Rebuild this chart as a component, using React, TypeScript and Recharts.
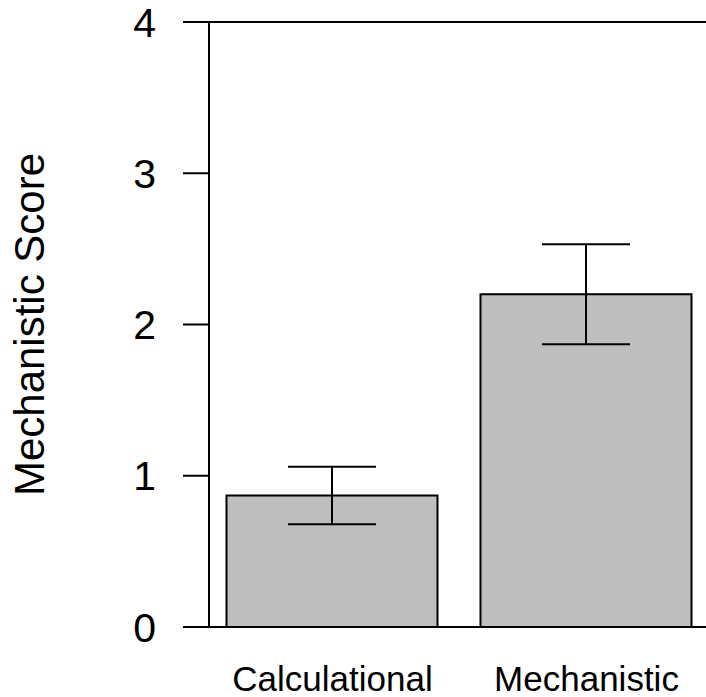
import React from "react";
import {
  BarChart,
  Bar,
  XAxis,
  YAxis,
  ErrorBar,
  ReferenceLine,
} from "recharts";

const categories = ["Calculational", "Mechanistic"];
const scores = [0.87, 2.2];
const errors = [0.19, 0.33];
const yTicks = [0, 1, 2, 3, 4];

const data = categories.map((name, i) => ({
  idx: i,
  name,
  score: scores[i],
  err: errors[i],
}));

const font = "'Liberation Sans', Arial, Helvetica, sans-serif";

export default function App() {
  return (
    <div style={{ position: "absolute", left: 0, top: 0, width: 706, height: 697, background: "#fff" }}>
      <BarChart
        width={706}
        height={697}
        data={data}
        margin={{ top: 22, right: 0, left: 0, bottom: 0 }}
      >
        <XAxis
          type="number"
          dataKey="idx"
          domain={[-0.4862, 1.4705]}
          allowDataOverflow
          ticks={[0, 1]}
          interval={0}
          tickFormatter={(v: number) => categories[v] ?? ""}
          tickLine={false}
          tickSize={0}
          tickMargin={39}
          height={70}
          axisLine={{ stroke: "#000", strokeWidth: 2 }}
          tick={{ fill: "#000", fontSize: 35, fontFamily: font }}
        />
        <YAxis
          domain={[0, 4]}
          ticks={yTicks}
          interval={0}
          width={209}
          tickSize={26}
          tickMargin={27}
          axisLine={{ stroke: "#000", strokeWidth: 2 }}
          tickLine={{ stroke: "#000", strokeWidth: 2 }}
          tick={{ fill: "#000", fontSize: 41, fontFamily: font }}
          label={{
            value: "Mechanistic Score",
            angle: -90,
            position: "insideLeft",
            offset: 29,
            fontSize: 42,
            fontFamily: font,
            fill: "#000",
            style: { textAnchor: "middle", fontSize: 42, fontFamily: font, fill: "#000" },
          }}
        />
        <ReferenceLine y={4} stroke="#000" strokeWidth={2} ifOverflow="extendDomain" />
        <Bar
          dataKey="score"
          fill="#bebebe"
          stroke="#000"
          strokeWidth={2}
          barSize={211}
          isAnimationActive={false}
        >
          <ErrorBar dataKey="err" width={44} stroke="#000" strokeWidth={2} direction="y" />
        </Bar>
      </BarChart>
    </div>
  );
}
